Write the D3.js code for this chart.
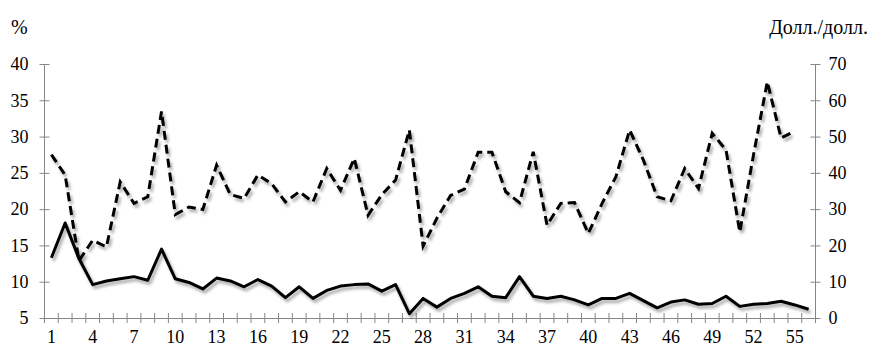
<!DOCTYPE html>
<html>
<head>
<meta charset="utf-8">
<script src="https://cdn.jsdelivr.net/npm/d3@7"></script>
</head>
<body style="margin:0; background:#fff">
<script>
// размеры
const width = 870;
const height = 347;

// данные
const categories = d3.range(1, 57);
const percentValues = [13.3, 18.1, 13.2, 9.6, 10.1, 10.4, 10.7, 10.2, 14.5, 10.4,
  9.9, 9.0, 10.5, 10.1, 9.3, 10.3, 9.4, 7.8, 9.3, 7.7,
  8.8, 9.4, 9.6, 9.7, 8.7, 9.6, 5.6, 7.7, 6.5, 7.7,
  8.4, 9.3, 8.0, 7.8, 10.7, 8.0, 7.7, 8.0, 7.5, 6.8,
  7.7, 7.7, 8.4, 7.4, 6.4, 7.2, 7.5, 6.9, 7.0, 8.0,
  6.6, 6.9, 7.0, 7.3, 6.8, 6.2];
const dollarValues = [45, 39.4, 15.8, 21.4, 19.6, 37.5, 31.6, 33.4, 56.9, 28.5,
  30.6, 29.9, 42.1, 34, 33, 39.4, 37, 32, 34.8, 32,
  41.2, 35.2, 44, 28.3, 34, 38, 51.8, 19.8, 27.5, 33.8,
  35.5, 45.7, 45.7, 34.8, 31.8, 45.8, 25.6, 31.6, 31.8, 23.3,
  31.6, 38.9, 51.8, 43.5, 33.4, 32.3, 41.2, 35.7, 50.9, 46.3,
  23.7, 45, 65.1, 49.6, 51.5, null];
const leftTicks = [5, 10, 15, 20, 25, 30, 35, 40];
const rightTicks = [0, 10, 20, 30, 40, 50, 60, 70];
const xLabels = categories.filter(d => (d - 1) % 3 === 0);

const plotMargins = { top: 64, bottom: 29, left: 44.5, right: 54.5 };
const plotWidth = width - plotMargins.left - plotMargins.right;
const plotHeight = height - plotMargins.top - plotMargins.bottom;
const fontFamily = '"Liberation Serif"';

const svg = d3.select('body').append('svg')
  .attr('width', width)
  .attr('height', height);

// тень для линий
svg.append('defs').append('filter')
  .attr('id', 'shadow')
  .attr('x', '-10%').attr('y', '-20%')
  .attr('width', '120%').attr('height', '140%')
  .append('feDropShadow')
  .attr('dx', 2).attr('dy', 3)
  .attr('stdDeviation', 1.6)
  .attr('flood-color', '#000')
  .attr('flood-opacity', 0.35);

const plot = svg.append('g')
  .attr('transform', `translate(${plotMargins.left},${plotMargins.top})`);

const xScale = d3.scaleBand().domain(categories).range([0, plotWidth]);
const yLeft = d3.scaleLinear().domain([5, 40]).range([plotHeight, 0]);
const yRight = d3.scaleLinear().domain([0, 70]).range([plotHeight, 0]);

const axisColor = '#868686';

// ось X
const xg = plot.append('g')
  .attr('transform', `translate(0,${plotHeight})`)
  .call(d3.axisBottom(xScale).tickValues(xLabels).tickSize(0).tickPadding(12));
xg.select('.domain').attr('stroke', axisColor);
// засечки на границах категорий
plot.append('g').selectAll('line')
  .data(d3.range(0, categories.length + 1))
  .join('line')
  .attr('x1', i => i * xScale.step())
  .attr('x2', i => i * xScale.step())
  .attr('y1', plotHeight - 5)
  .attr('y2', plotHeight + 5)
  .attr('stroke', axisColor);

// левая ось
const ylg = plot.append('g')
  .call(d3.axisLeft(yLeft).tickValues(leftTicks).tickSize(5).tickPadding(11));
ylg.select('.domain').attr('stroke', axisColor).attr('d', `M0,0V${plotHeight}`);
ylg.selectAll('.tick line').attr('stroke', axisColor).attr('x1', 5);

// правая ось
const yrg = plot.append('g')
  .attr('transform', `translate(${plotWidth},0)`)
  .call(d3.axisRight(yRight).tickValues(rightTicks).tickSize(5).tickPadding(8));
yrg.select('.domain').attr('stroke', axisColor).attr('d', `M0,0V${plotHeight}`);
yrg.selectAll('.tick line').attr('stroke', axisColor).attr('x1', -5);

svg.selectAll('text')
  .style('font-family', fontFamily)
  .style('font-size', '18px')
  .attr('fill', '#000');

// подписи осей
svg.append('text').attr('x', 11).attr('y', 34).text('%');
svg.append('text').attr('x', 868).attr('y', 34).attr('text-anchor', 'end')
  .text('Долл./долл.');
svg.selectAll(':scope > text')
  .style('font-family', fontFamily)
  .style('font-size', '20px')
  .attr('fill', '#000');

const cx = d => xScale(d) + xScale.bandwidth() / 2;

const lineLeft = d3.line()
  .defined(d => d[1] != null)
  .x(d => cx(d[0]))
  .y(d => yLeft(d[1]));
const lineRight = d3.line()
  .defined(d => d[1] != null)
  .x(d => cx(d[0]))
  .y(d => yRight(d[1]));

plot.append('path')
  .datum(categories.map((c, i) => [c, dollarValues[i]]))
  .attr('d', lineRight)
  .attr('fill', 'none')
  .attr('stroke', '#000')
  .attr('stroke-width', 3)
  .attr('stroke-dasharray', '9,5')
  .attr('filter', 'url(#shadow)');

plot.append('path')
  .datum(categories.map((c, i) => [c, percentValues[i]]))
  .attr('d', lineLeft)
  .attr('fill', 'none')
  .attr('stroke', '#000')
  .attr('stroke-width', 3)
  .attr('stroke-linejoin', 'round')
  .attr('filter', 'url(#shadow)');
</script>
</body>
</html>
